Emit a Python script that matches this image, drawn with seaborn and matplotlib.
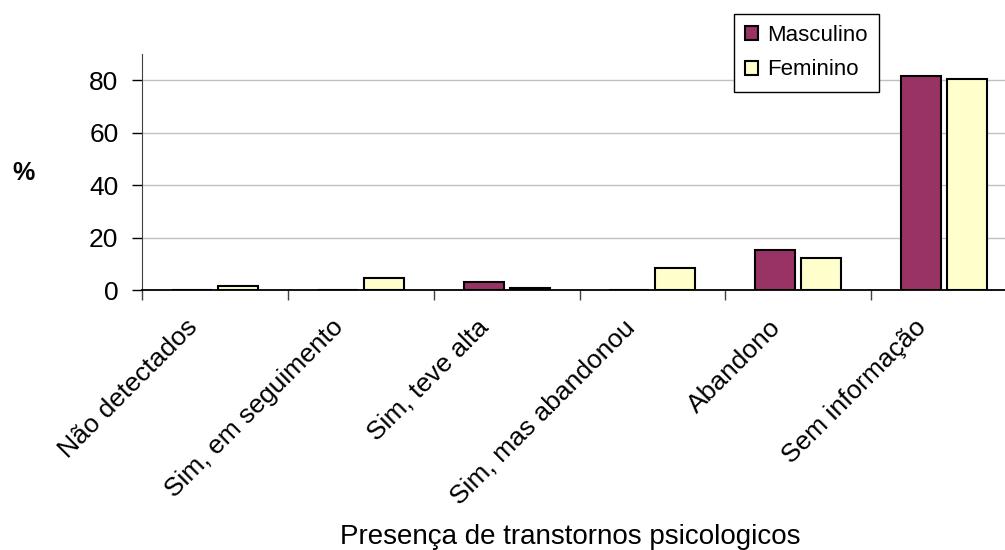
import matplotlib
matplotlib.use("Agg")
import matplotlib.pyplot as plt
import matplotlib.transforms as mtransforms
import numpy as np
import pandas as pd
import seaborn as sns

categorias = ["Não detectados", "Sim, em seguimento", "Sim, teve alta",
              "Sim, mas abandonou", "Abandono", "Sem informação"]
masculino = [0.0, 0.0, 3.1, 0.0, 15.3, 81.8]
feminino = [1.6, 4.6, 0.8, 8.4, 12.3, 80.4]
series = ["Masculino", "Feminino"]
cores = ["#993366", "#FFFFCC"]

df = pd.DataFrame({
    "categoria": categorias * 2,
    "sexo": [series[0]] * len(categorias) + [series[1]] * len(categorias),
    "valor": masculino + feminino,
})

sns.set_style("white")
plt.rcParams["font.family"] = ["Liberation Sans", "DejaVu Sans"]
plt.rcParams["text.color"] = "black"
plt.rcParams["xtick.color"] = "black"
plt.rcParams["ytick.color"] = "black"
plt.rcParams["axes.labelcolor"] = "black"

fig = plt.figure(figsize=(10.05, 5.5), dpi=100)
ax = fig.add_axes([142 / 1005, 1 - 290 / 550, 875 / 1005, 236 / 550])

sns.barplot(data=df, x="categoria", y="valor", hue="sexo", order=categorias,
            hue_order=series, palette=cores, saturation=1, width=0.63, gap=0.13,
            edgecolor="black", linewidth=1.5, ax=ax, legend=True)

ax.set_xlim(-0.5, len(categorias) - 0.5)
ax.set_ylim(0, 90)
ax.set_yticks([0, 20, 40, 60, 80])
ax.yaxis.grid(True, color="#c0c0c0", linewidth=1)
ax.set_axisbelow(True)
for s in ["top", "right"]:
    ax.spines[s].set_visible(False)
ax.spines["left"].set_color("#404040")
ax.spines["bottom"].set_color("black")
ax.spines["bottom"].set_linewidth(1.3)

ax.tick_params(axis="y", left=True, length=7, width=1, labelsize=19, pad=10, colors="black")
ax.set_xticks(range(len(categorias)))
ax.set_xticklabels(categorias, rotation=45, ha="right", rotation_mode="anchor", fontsize=19)
ax.tick_params(axis="x", which="major", length=0, pad=18)
shift = mtransforms.ScaledTranslation(-30 / 100, 0, fig.dpi_scale_trans)
for lbl in ax.get_xticklabels():
    lbl.set_transform(lbl.get_transform() + shift)
ax.set_xticks(np.arange(len(categorias)) - 0.5, minor=True)
ax.tick_params(axis="x", which="minor", bottom=True, length=7, width=1, color="#404040")

ax.set_ylabel("")
ax.set_xlabel("Presença de transtornos psicologicos", fontsize=20)
ax.xaxis.set_label_coords((570 - 142) / 875, (290 - 524) / 236)
fig.text(12 / 1005, 1 - 173 / 550, "%", fontsize=18, fontweight="bold", va="center")

ax.get_legend().remove()
handles = [plt.Rectangle((0, 0), 1, 1, facecolor=c, edgecolor="black", linewidth=1.5) for c in cores]
fig.legend(handles, series, loc="upper left", bbox_to_anchor=(734 / 1005, 1 - 14 / 550),
           borderaxespad=0, frameon=True, fancybox=False, edgecolor="black", fontsize=16,
           handlelength=0.6, handleheight=0.6, handletextpad=0.4, borderpad=0.5,
           labelspacing=0.6, framealpha=1)

fig.savefig("out.png", dpi=100)
